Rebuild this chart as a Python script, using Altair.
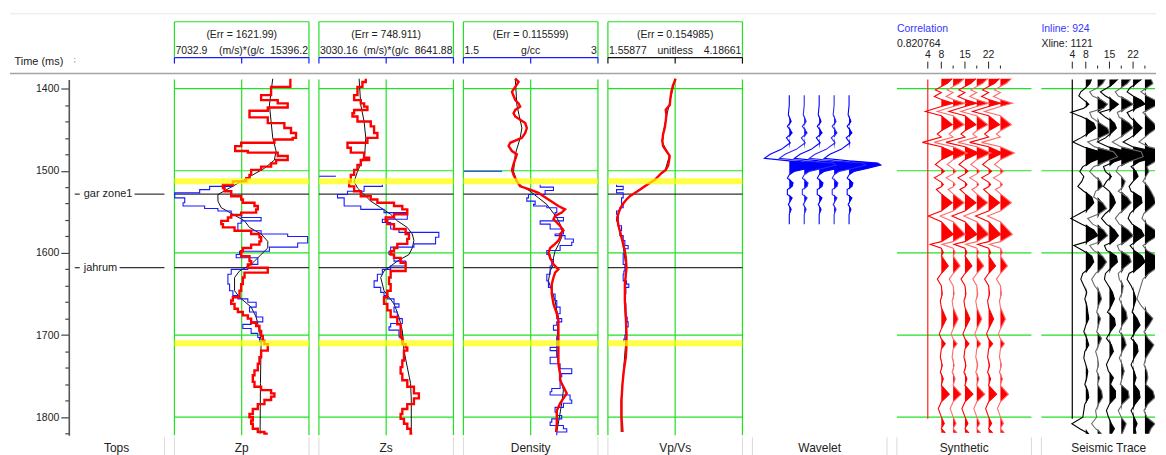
import altair as alt
import pandas as pd

FONT = "Liberation Sans"
W, H, TW, SW = 135, 357, 96, 114
T0, T1 = 1389, 1822
GREEN = "#22e022"
BLUE = "#1a1aff"
TXT = "#222222"

# ---------------- data ----------------
grid_times = [1400, 1500, 1600, 1700, 1800]
tops_names = ["gar zone1", "jahrum"]
tops_times = [1528.5, 1618]
yellow_times = [1512.7, 1710]
time_ticks = list(range(1400, 1821, 20))

zp_red = [(1388,14240),(1398,13042),(1408,12422),(1414,13455),(1418,14074),(1423,12836),(1427,11700),(1435,12836),
          (1442,13868),(1448,14281),(1454,14591),(1460,14384),(1462,13248),(1466,11184),(1470,10812),(1476,11596),
          (1478,13455),(1482,14074),(1487,13352),(1491,13042),(1495,12422),(1499,11803),(1505,11700),(1509,11493),
          (1513,10667),(1517,10048),(1521,10151),(1525,10564),(1531,11184),(1535,11287),(1539,12010),(1543,12216),
          (1547,12113),(1551,11184),(1554,10564),(1557,10358),(1561,9945),(1565,10048),(1569,10771),(1573,11803),
          (1577,12319),(1581,12422),(1586,12319),(1590,11803),(1594,11287),(1598,11184),(1604,11700),(1610,11803),
          (1614,11596),(1618,12836),(1624,11390),(1630,11287),(1638,11184),(1646,11080),(1654,10667),(1658,10564),
          (1662,10771),(1668,10977),(1672,11287),(1676,11596),(1680,11803),(1685,12113),(1689,12319),(1695,12422),
          (1701,12526),(1707,12629),(1711,12836),(1719,12422),(1727,12319),(1735,12216),(1743,12010),(1749,11906),
          (1757,12010),(1763,12422),(1767,13042),(1771,13248),(1775,13042),(1779,12629),(1784,12216),(1790,11906),
          (1796,11700),(1800,11906),(1804,11803),(1808,11906),(1814,12216),(1818,12629),(1820,12836)]
zp_black = [(1388,13145),(1420,12939),(1460,13145),(1476,13352),(1487,13248),(1497,12629),(1505,11906),(1513,11184),
            (1521,10461),(1529,9738),(1537,9738),(1545,9945),(1553,10667),(1561,11390),(1569,11700),(1577,12422),
            (1586,12836),(1594,12836),(1602,12422),(1610,12010),(1614,11803),(1622,11080),(1630,10771),(1646,10771),
            (1654,11080),(1666,11803),(1678,12113),(1695,12319),(1707,12422),(1759,12381),(1820,12360)]
zp_blue = [[(1516,10667),(1519,9222),(1523,8602),(1527,7054),(1533,7673),(1539,7570),(1543,8912),(1546,9738),
            (1549,10564),(1553,11184),(1557,12422),(1561,11184),(1564,10977),(1573,12422),(1577,14074),(1580,15314),
            (1588,14694),(1593,12939),(1598,11080),(1602,10874),(1606,12216),(1614,11596),(1620,10564),(1626,10358),
            (1638,10461),(1646,10667),(1652,10977),(1656,11596),(1660,12113),(1666,11700),(1672,12113),(1678,12526),
            (1684,11803),(1687,11287),(1692,11803),(1698,12216),(1703,12319),(1708,12422)]]

zs_red = [(1388,4984),(1392,4845),(1398,4638),(1408,4499),(1414,4776),(1418,4915),(1422,5053),(1426,4499),(1430,4430),
          (1434,4638),(1440,5192),(1446,5331),(1454,5469),(1460,5053),(1466,4222),(1472,4361),(1478,4915),(1484,5123),
          (1487,4776),(1493,4638),(1499,4499),(1505,4361),(1513,4291),(1519,4499),(1525,4776),(1531,5192),(1535,5469),
          (1539,6162),(1543,6509),(1547,6716),(1553,6162),(1557,5815),(1561,5885),(1565,6162),(1571,6647),(1577,6786),
          (1583,6716),(1589,6300),(1594,6162),(1598,6023),(1602,6162),(1606,6439),(1612,6647),(1618,6647),(1622,6023),
          (1630,5954),(1638,6023),(1646,5885),(1654,5746),(1662,5885),(1670,6023),(1678,6300),(1687,6439),(1695,6439),
          (1703,6509),(1711,6647),(1715,6716),(1719,6578),(1731,6509),(1739,6439),(1747,6509),(1755,6716),(1763,6993),
          (1771,7200),(1777,6993),(1784,6716),(1790,6509),(1796,6439),(1802,6578),(1808,6716),(1814,6855),(1820,6924)]
zs_black = [(1388,4707),(1420,4776),(1440,4915),(1460,4984),(1480,4942),(1492,4776),(1501,4638),(1513,4499),(1521,4638),
            (1529,4915),(1537,5192),(1545,5608),(1553,6023),(1561,6300),(1569,6716),(1577,6924),(1585,6993),(1594,6924),
            (1602,6786),(1610,6300),(1622,5746),(1630,5608),(1646,5746),(1662,6162),(1678,6370),(1695,6509),(1719,6578),
            (1739,6716),(1759,6855),(1779,6883),(1820,6883)]
zs_blue = [[(1506.7,3044),(1506.7,3737)],
           [(1517,5677),(1519,4915),(1525,4222),(1529,3806),(1533,4083),(1543,4776),(1547,5746),(1551,6716),(1559,5677),
            (1563,6023),(1571,6370),(1575,8033),(1581,7895),(1589,6993),(1593,6023),(1598,5954),(1602,6162),(1610,6647),
            (1616,6023),(1620,5677),(1626,5469),(1634,5331),(1642,5608),(1648,5746),(1652,5885),(1656,6162),(1662,6370),
            (1666,6162),(1672,6300),(1680,6509),(1686,6023),(1690,5954),(1694,6370),(1702,6509),(1708,6509)]]

den_red = [(1388,2.078),(1392,2.115),(1398,2.078),(1404,2.041),(1414,2.078),(1418,2.115),(1422,2.133),(1426,2.078),
           (1430,2.059),(1434,2.078),(1438,2.133),(1442,2.189),(1448,2.207),(1454,2.189),(1460,2.152),(1466,2.022),
           (1470,2.004),(1476,2.041),(1480,2.096),(1486,2.078),(1492,2.059),(1499,2.041),(1505,2.059),(1513,2.096),
           (1519,2.133),(1523,2.245),(1527,2.337),(1531,2.393),(1535,2.448),(1539,2.504),(1543,2.559),(1547,2.633),
           (1551,2.596),(1555,2.522),(1559,2.504),(1563,2.541),(1567,2.578),(1573,2.615),(1577,2.578),(1581,2.578),
           (1585,2.559),(1589,2.522),(1594,2.467),(1600,2.448),(1606,2.467),(1614,2.504),(1620,2.559),(1624,2.522),
           (1630,2.504),(1638,2.485),(1650,2.485),(1662,2.504),(1674,2.541),(1682,2.559),(1695,2.559),(1707,2.559),
           (1719,2.559),(1735,2.559),(1747,2.578),(1755,2.578),(1763,2.615),(1771,2.652),(1777,2.615),(1783,2.578),
           (1792,2.541),(1800,2.541),(1808,2.541),(1818,2.533)]
den_black = [(1388,2.078),(1420,2.096),(1448,2.152),(1460,2.133),(1480,2.078),(1501,2.059),(1513,2.096),(1519,2.152),
             (1525,2.245),(1533,2.337),(1541,2.430),(1549,2.485),(1557,2.541),(1565,2.578),(1573,2.596),(1581,2.596),
             (1590,2.559),(1598,2.522),(1606,2.504),(1614,2.504),(1622,2.467),(1634,2.448),(1646,2.485),(1658,2.522),
             (1670,2.541),(1678,2.559),(1699,2.548),(1719,2.541),(1735,2.559),(1751,2.578),(1767,2.615),(1783,2.596),
             (1800,2.570),(1818,2.541)]
den_blue = [[(1500.6,1.504),(1500.6,1.930)],
            [(1517,2.356),(1520,2.504),(1524,2.411),(1529,2.226),(1533,2.207),(1537,2.300),(1541,2.282),(1543,2.430),
             (1545,2.541),(1551,2.522),(1557,2.615),(1561,2.356),(1565,2.467),(1571,2.615),(1577,2.522),(1579,2.633),
             (1583,2.726),(1587,2.708),(1591,2.578),(1597,2.430),(1602,2.467),(1608,2.504),(1612,2.485),(1616,2.467),
             (1620,2.467),(1626,2.430),(1634,2.448),(1642,2.485),(1650,2.522),(1658,2.541),(1666,2.578),(1674,2.541),
             (1680,2.596),(1684,2.541),(1688,2.504),(1694,2.559),(1702,2.541),(1715,2.467),(1719,2.541),(1727,2.467),
             (1735,2.578),(1741,2.708),(1747,2.596),(1751,2.578),(1759,2.578),(1765,2.485),(1769,2.467),(1773,2.689),
             (1779,2.708),(1783,2.615),(1788,2.522),(1794,2.541),(1798,2.596),(1802,2.485),(1806,2.467),(1810,2.615),
             (1814,2.652),(1818,2.541),(1822,2.541)]]

vp_red = [(1388,2.882),(1396,2.830),(1404,2.798),(1412,2.779),(1420,2.766),(1426,2.688),(1432,2.701),(1440,2.688),
          (1448,2.668),(1456,2.636),(1464,2.623),(1470,2.636),(1476,2.701),(1482,2.766),(1488,2.753),(1494,2.733),
          (1499,2.688),(1503,2.603),(1507,2.539),(1511,2.474),(1515,2.376),(1519,2.279),(1523,2.182),(1527,2.084),
          (1531,1.987),(1535,1.922),(1539,1.870),(1543,1.825),(1549,1.779),(1557,1.740),(1565,1.760),(1573,1.792),
          (1581,1.825),(1589,1.857),(1598,1.890),(1606,1.909),(1618,1.922),(1638,1.890),(1658,1.890),(1678,1.909),
          (1699,1.922),(1711,1.922),(1727,1.909),(1743,1.870),(1759,1.844),(1779,1.825),(1800,1.825),(1818,1.844)]
vp_black = [(1388,2.870),(1420,2.755),(1440,2.680),(1464,2.612),(1482,2.758),(1499,2.680),(1511,2.465),(1523,2.170),
            (1535,1.912),(1549,1.772),(1565,1.752),(1589,1.850),(1618,1.915),(1660,1.885),(1700,1.918),(1740,1.868),
            (1780,1.815),(1818,1.818)]
vp_blue = [[(1517,1.727),(1519,1.857),(1523,1.727),(1527,1.857),(1533,1.825),(1541,1.857),(1545,1.792),(1549,1.727),
            (1553,1.760),(1557,1.727),(1561,1.760),(1567,1.825),(1573,1.792),(1579,1.857),(1585,1.890),(1591,1.954),
            (1595,1.890),(1601,1.857),(1610,1.857),(1614,1.890),(1622,1.870),(1626,1.857),(1634,1.922),(1638,1.967),
            (1642,1.909),(1650,1.890),(1662,1.909),(1678,1.935),(1684,1.954),(1690,1.909),(1700,1.890),(1705,1.870),
            (1708,1.870)]]

# wavelet (normalised amplitude), 5 repeated traces
wav_t = [1408,1420,1432,1440,1446,1454,1460,1466,1474,1480,1485,1488,1490.5,1493,1497,1501,1505,1509,1515,1519,1523,
         1529,1533,1537,1541,1547,1553,1565]
wav_a = [0,0,-0.03,0.06,-0.06,0.09,-0.09,0.03,-0.25,-0.6,-0.78,0,0.9,1.0,0.6,0.15,0,-0.06,0.12,0.09,-0.06,
         -0.06,0.09,0.03,-0.03,0.06,0,0]
wav_pos = [1, 2, 3, 4, 5]

# synthetic trace amplitude, repeated on 6 traces
syn_t = [1388,1393.5,1397.6,1401.6,1404.8,1409.7,1413.3,1417.8,1421.8,1427.9,1433.1,1444,1451.3,1455.4,1459,1465.5,
         1470.7,1478.4,1486.5,1492.5,1497.4,1500.6,1503.8,1508.7,1513.9,1516.8,1519.6,1522.8,1528.1,1539,1549.1,
         1555.2,1562,1577.4,1586.3,1589.5,1594.3,1599.6,1603.7,1615.8,1625.1,1631.9,1640,1650.1,1658.2,1666.3,
         1680.4,1692.5,1698.6,1704.7,1710.7,1716.8,1726.9,1737,1745.1,1753.2,1761.2,1772.1,1781.4,1789.5,1799.6,
         1807.7,1813.8,1819]
syn_a = [11,6,0,-6,0,-7,0,12,0,-16,0,11,0,-4,0,-19,0,14,0,-6,0,3,0,-7,0,2,0,-5,0,11,0,-13,0,12,0,-11,0,2,0,7,0,
         -4,0,1,-1,0,5,0,-2,0,4,0,-1,1,-1,2,0,8,0,-3,0,3,0,4]
trace_pos = [8, 11.5, 15, 18.5, 22, 25.5]

seis_t = [1388,1394,1399,1404,1409,1414,1419,1424,1429,1435,1442,1448,1454,1460,1465,1471,1477,1483,1489,1495,
          1501,1507,1513,1519,1525,1532,1539,1546,1552,1558,1565,1572,1579,1586,1591,1597,1604,1611,1618,1625,
          1632,1640,1648,1656,1664,1672,1680,1688,1696,1704,1712,1720,1728,1736,1744,1752,1760,1768,1776,1784,
          1792,1800,1808,1814,1820]
seis_1 = [6,4,0,-5,-7,-2,3,-2,-15,-3,8,10,3,-5,-13,-2,14,18,6,-3,-6,-2,-4,-8,-2,6,8,3,-6,-15,-4,8,12,2,-12,
          -3,6,8,4,-3,-5,-2,1,-1,1,2,3,0,-2,1,3,-1,-2,0,2,1,-1,2,3,-1,-2,-3,-14,-6,3]
seis_2 = [8,5,0,-8,-5,4,10,6,-8,-6,2,10,12,2,-10,-3,16,20,8,-4,-8,-3,3,5,-2,-4,5,9,2,-10,-5,6,10,3,-8,
          -4,5,9,5,-2,-6,-3,2,4,1,-1,3,1,-1,4,1,-2,0,1,-1,2,0,4,5,1,-2,-1,-6,-2,4]
seis_3 = [9,4,-2,-9,-4,3,9,4,-10,-4,5,7,2,-4,-12,-1,18,20,5,-6,-4,2,-3,-6,0,4,6,2,-4,-8,-3,5,9,4,-5,
          -3,7,8,2,-4,-5,-1,3,5,2,-2,5,6,1,-3,2,4,0,-3,-1,4,1,6,6,0,-3,-1,2,5,2]
seis_4 = [10,6,0,-6,-3,6,12,5,-4,-2,8,12,5,-2,-9,0,20,22,8,-3,-5,0,4,2,-3,6,10,4,-2,-6,-2,7,12,5,-4,
          -2,8,10,3,-3,-2,2,1,-2,1,5,6,1,-2,3,5,1,-2,1,3,1,-1,7,8,1,-3,0,5,3,1]
seis_5 = [9,3,-3,-6,0,8,12,3,-6,-3,4,9,4,-3,-10,0,22,24,6,-2,3,5,0,-4,-2,8,9,2,-3,-5,-1,8,11,3,-3,
          1,9,12,6,-4,-6,-2,1,3,1,-1,4,7,2,-2,4,5,1,-2,1,3,1,6,7,2,-2,1,4,2,3]
seis_6 = [6,8,2,-4,2,10,14,6,-2,3,9,12,5,-1,-6,4,24,26,10,2,4,1,-2,3,6,9,11,5,-1,-3,2,10,13,4,-2,
          2,12,20,12,4,-2,-4,-6,-8,-4,2,8,4,-1,3,9,5,1,-1,2,3,1,8,10,3,-1,2,10,6,4]

# ---------------- helpers ----------------
ONE = pd.DataFrame({"k": [0]})


def Yq(axis=None):
    return alt.Y("t:Q", scale=alt.Scale(domain=[T0, T1], reverse=True, nice=False, zero=False), axis=axis)


def Xq(field, dom, stack=None):
    if stack is None:
        return alt.X(f"{field}:Q", scale=alt.Scale(domain=dom, nice=False, zero=False), axis=None)
    return alt.X(f"{field}:Q", scale=alt.Scale(domain=dom, nice=False, zero=False), axis=None, stack=False)


def hrule(y, x0, x1, color, width=1.0):
    return alt.Chart(ONE).mark_rule(color=color, strokeWidth=width).encode(
        x=alt.value(x0), x2=alt.value(x1), y=alt.value(y))


def vrule(x, y0, y1, color, width=1.0):
    return alt.Chart(ONE).mark_rule(color=color, strokeWidth=width).encode(
        x=alt.value(x), y=alt.value(y0), y2=alt.value(y1))


def txt(s, x, y, align="center", size=10.5, color=TXT):
    return alt.Chart(pd.DataFrame({"s": [s]})).mark_text(
        font=FONT, fontSize=size, color=color, align=align, baseline="middle").encode(
        x=alt.value(x), y=alt.value(y), text="s:N")


def footer(name, w, cx, left=True, right=True):
    L = [txt(name, cx, H + 13, size=12)]
    if left:
        L.append(vrule(0, H + 2, H + 20, "#d9d9d9"))
    if right:
        L.append(vrule(w, H + 2, H + 20, "#d9d9d9"))
    return L


def pairs_df(pairs, seg=0):
    d = pd.DataFrame(pairs, columns=["t", "v"])
    d["seg"] = seg
    return d


def log_panel(name, dom, err, lo_s, unit, hi_s, axis_col, red, red_interp, black, blue_segs):
    lo, hi = dom
    mid = (lo + hi) / 2
    Y = Yq()
    edges = pd.DataFrame({"v": [lo, mid, hi]})
    L = []
    L.append(alt.Chart(edges).mark_rule(color=GREEN, strokeWidth=1.2).encode(
        x=Xq("v", dom), y=alt.value(0), y2=alt.value(H)))
    L.append(alt.Chart(pd.DataFrame({"t": grid_times})).mark_rule(color=GREEN, strokeWidth=1.2).encode(
        x=alt.value(0), x2=alt.value(W), y=Y))
    L.append(alt.Chart(pd.DataFrame({"t": tops_times})).mark_rule(color="#333333", strokeWidth=1.2).encode(
        x=alt.value(0), x2=alt.value(W), y=Y))
    L.append(alt.Chart(pairs_df(black)).mark_line(color="#111111", strokeWidth=1).encode(
        x=Xq("v", dom), y=Y, order="t:Q"))
    blue_df = pd.concat([pairs_df(s, i) for i, s in enumerate(blue_segs)], ignore_index=True)
    L.append(alt.Chart(blue_df).mark_line(color=BLUE, strokeWidth=1.1, interpolate="step-before").encode(
        x=Xq("v", dom), y=Y, detail="seg:N", order="t:Q"))
    L.append(alt.Chart(pairs_df(red)).mark_line(color="#ff0000", strokeWidth=2.4, interpolate=red_interp).encode(
        x=Xq("v", dom), y=Y, order="t:Q"))
    L.append(alt.Chart(pd.DataFrame({"t": yellow_times})).mark_rule(
        color="#ffff00", strokeWidth=6, opacity=0.72).encode(x=alt.value(0), x2=alt.value(W), y=Y))
    # header box
    L.append(alt.Chart(pd.DataFrame({"v": [lo, hi]})).mark_rule(color=GREEN, strokeWidth=1.2).encode(
        x=Xq("v", dom), y=alt.value(-58), y2=alt.value(-22)))
    L.append(hrule(-58, 0, W, GREEN, 1.2))
    L.append(hrule(-22, 0, W, axis_col, 1.2))
    L.append(alt.Chart(edges).mark_rule(color=axis_col, strokeWidth=1.2).encode(
        x=Xq("v", dom), y=alt.value(-22), y2=alt.value(-16)))
    L.append(txt(err, W / 2, -45))
    L.append(alt.Chart(pd.DataFrame({"v": [lo], "s": [lo_s]})).mark_text(
        font=FONT, fontSize=10.5, color=TXT, align="left", baseline="middle", dx=1).encode(
        x=Xq("v", dom), y=alt.value(-29), text="s:N"))
    L.append(alt.Chart(pd.DataFrame({"v": [mid], "s": [unit]})).mark_text(
        font=FONT, fontSize=10.5, color=TXT, align="center", baseline="middle").encode(
        x=Xq("v", dom), y=alt.value(-29), text="s:N"))
    L.append(alt.Chart(pd.DataFrame({"v": [hi], "s": [hi_s]})).mark_text(
        font=FONT, fontSize=10.5, color=TXT, align="right", baseline="middle", dx=-1).encode(
        x=Xq("v", dom), y=alt.value(-29), text="s:N"))
    L += footer(name, W, W / 2)
    return alt.layer(*L).properties(width=W, height=H)


def wiggle_df(tvals, amps_list, positions, gain):
    rows = []
    for i, (p, amps) in enumerate(zip(positions, amps_list)):
        for t, a in zip(tvals, amps):
            rows.append({"t": t, "x": p + a * gain, "xf": p + max(a, 0) * gain, "base": p, "tr": i, "par": i % 2})
    return pd.DataFrame(rows)


def wiggle_layers(df, dom, fill, line_a, line_b, clip=False):
    Y = Yq()
    L = [alt.Chart(df).mark_area(color=fill, orient="horizontal", opacity=1, clip=clip).encode(
        y=Y, x=Xq("xf", dom, stack=False), x2="base:Q", detail="tr:N")]
    L.append(alt.Chart(df).transform_filter("datum.par == 0").mark_line(
        color=line_a, strokeWidth=1.1, clip=clip).encode(x=Xq("x", dom), y=Y, detail="tr:N", order="t:Q"))
    L.append(alt.Chart(df).transform_filter("datum.par == 1").mark_line(
        color=line_b, strokeWidth=1.1, clip=clip).encode(x=Xq("x", dom), y=Y, detail="tr:N", order="t:Q"))
    return L


def trace_header(dom, l1, l2):
    L = [txt(l1, 0, -51, align="left", color="#3636ff"), txt(l2, 0, -36, align="left")]
    L.append(alt.Chart(pd.DataFrame({"v": [4, 8, 15, 22]})).mark_text(
        font=FONT, fontSize=10.5, color=TXT, align="center", baseline="middle").encode(
        x=Xq("v", dom), y=alt.value(-25), text="v:Q"))
    L.append(alt.Chart(pd.DataFrame({"v": [4, 8, 15, 22]})).mark_rule(color="#222222", strokeWidth=1).encode(
        x=Xq("v", dom), y=alt.value(-18), y2=alt.value(-11)))
    L.append(alt.Chart(pd.DataFrame({"v": [11.5, 18.5, 25.5]})).mark_rule(color="#222222", strokeWidth=1).encode(
        x=Xq("v", dom), y=alt.value(-14), y2=alt.value(-11)))
    return L


# ---------------- Tops panel ----------------
tops_df = pd.DataFrame({"t": tops_times, "name": tops_names})
yaxis = alt.Axis(values=time_ticks, format="d",
                 labelExpr="datum.value % 100 === 0 ? datum.label : ''",
                 tickSize={"condition": {"test": "datum.value % 100 === 0", "value": 8}, "value": 4},
                 tickColor="#444444", tickWidth=1.2, domainColor="#555555", domainWidth=1.6,
                 labelFont=FONT, labelFontSize=10.5, labelColor=TXT, labelPadding=2, grid=False,
                 title="Time (ms)", titleX=-55, titleY=-18, titleAngle=0, titleAlign="left",
                 titleBaseline="middle", titleFont=FONT, titleFontSize=11, titleFontWeight="normal",
                 titleColor=TXT)
YT = Yq(axis=yaxis)
tops_layers = [
    alt.Chart(tops_df).mark_rule(color="#333333", strokeWidth=1.2).encode(
        x=alt.value(6), x2=alt.value(11), y=YT),
    alt.Chart(tops_df).transform_filter("datum.name == 'gar zone1'").mark_rule(
        color="#333333", strokeWidth=1.2).encode(x=alt.value(66), x2=alt.value(TW), y=YT),
    alt.Chart(tops_df).transform_filter("datum.name == 'jahrum'").mark_rule(
        color="#333333", strokeWidth=1.2).encode(x=alt.value(51), x2=alt.value(TW), y=YT),
    alt.Chart(tops_df).mark_text(font=FONT, fontSize=11, color=TXT, align="left", baseline="middle").encode(
        x=alt.value(15), y=YT, text="name:N"),
    hrule(-66, -59, 1091, "#ebe5de", 1),
    hrule(-6, -59, 1091, "#a4a4a4", 1.5),
    txt(";", 6, -20, size=7, color="#444444"),
]
tops_layers += footer("Tops", TW, TW / 2, left=False)
tops = alt.layer(*tops_layers).properties(width=TW, height=H)

# ---------------- log panels ----------------
zp = log_panel("Zp", [7032.9, 15396.2], "(Err = 1621.99)", "7032.9", "(m/s)*(g/c", "15396.2", BLUE,
               zp_red, "step-before", zp_black, zp_blue)
zs = log_panel("Zs", [3030.16, 8641.88], "(Err = 748.911)", "3030.16", "(m/s)*(g/c", "8641.88", BLUE,
               zs_red, "step-before", zs_black, zs_blue)
den = log_panel("Density", [1.5, 3.0], "(Err = 0.115599)", "1.5", "g/cc", "3", BLUE,
                den_red, "linear", den_black, den_blue)
vpvs = log_panel("Vp/Vs", [1.55877, 4.18661], "(Err = 0.154985)", "1.55877", "unitless", "4.18661", "#111111",
                 vp_red, "linear", vp_black, vp_blue)

# ---------------- wavelet ----------------
WD = [-1.4667, 7.5333]
wdf = wiggle_df(wav_t, [wav_a] * 5, wav_pos, 2.13)
wav_layers = wiggle_layers(wdf, WD, "#0000ff", "#0000ff", "#2a2aff")
wav_layers += footer("Wavelet", W, W / 2)
wav = alt.layer(*wav_layers).properties(width=W, height=H)

# ---------------- synthetic ----------------
SD = [-5.14, 34.68]
gain = 1 / 3.39
sdf = wiggle_df(syn_t, [syn_a] * 6, trace_pos, gain)
syn_layers = [alt.Chart(pd.DataFrame({"t": grid_times})).mark_rule(color=GREEN, strokeWidth=1.2).encode(
    x=alt.value(0), x2=alt.value(W), y=Yq())]
syn_layers.append(alt.Chart(pd.DataFrame({"v": [4], "t": [T0], "t2": [1802]})).mark_rule(
    color="#ff2020", strokeWidth=1.2).encode(x=Xq("v", SD), y=Yq(), y2="t2:Q"))
syn_layers += wiggle_layers(sdf, SD, "#ff0000", "#ff0000", "#ff6a6a")
syn_layers += trace_header(SD, "Correlation", "0.820764")
syn_layers += footer("Synthetic", W, W / 2)
syn = alt.layer(*syn_layers).properties(width=W, height=H)

# ---------------- seismic ----------------
ED = [-5.14, -5.14 + SW / 3.39]
edf = wiggle_df(seis_t, [seis_1, seis_2, seis_3, seis_4, seis_5, seis_6], trace_pos, gain)
seis_layers = [alt.Chart(pd.DataFrame({"t": grid_times})).mark_rule(color=GREEN, strokeWidth=1.2).encode(
    x=alt.value(0), x2=alt.value(SW), y=Yq())]
seis_layers.append(alt.Chart(pd.DataFrame({"v": [4], "t": [T0], "t2": [1802]})).mark_rule(
    color="#000000", strokeWidth=1.2).encode(x=Xq("v", ED), y=Yq(), y2="t2:Q"))
seis_layers += wiggle_layers(edf, ED, "#000000", "#000000", "#6a6a6a", clip=True)
seis_layers += trace_header(ED, "Inline: 924", "Xline: 1121")
seis_layers += footer("Seismic Trace", SW, W / 2, right=False)
seis = alt.layer(*seis_layers).properties(width=SW, height=H)

chart = alt.hconcat(tops, zp, zs, den, vpvs, wav, syn, seis, spacing=10, bounds="flush").resolve_scale(
    x="independent", y="independent").properties(
    padding={"left": 0, "top": 4, "right": 0, "bottom": 0}).configure_view(stroke="transparent")

chart.save("out.html", embed_options={"renderer": "svg", "actions": False})
